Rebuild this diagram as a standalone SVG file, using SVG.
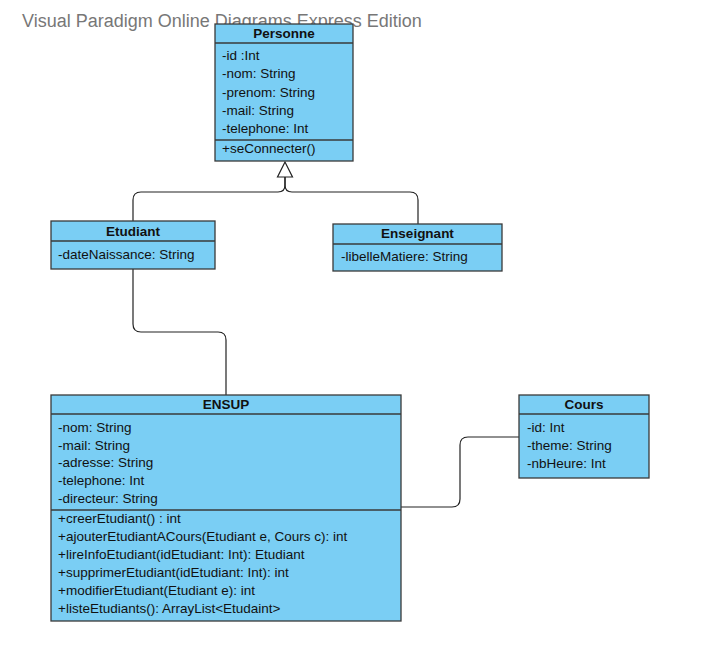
<svg xmlns="http://www.w3.org/2000/svg" width="713" height="672" viewBox="0 0 713 672">
<style>
.box{fill:#7acef4;stroke:#3a3a3a;stroke-width:1.3}
.sep{stroke:#3a3a3a;stroke-width:1.3}
.t{font-family:"Liberation Sans",Arial,sans-serif;font-size:13.5px;fill:#111}
.h{font-family:"Liberation Sans",Arial,sans-serif;font-size:13.5px;font-weight:bold;fill:#111;text-anchor:middle}
.c{fill:none;stroke:#222;stroke-width:1.2}
</style>
<rect width="713" height="672" fill="#fff"/>
<text x="22" y="27" font-family="Liberation Sans,Arial,sans-serif" font-size="18" fill="#777">Visual Paradigm Online Diagrams Express Edition</text>
<g id="connectors">
<path class="c" d="M285 177 V185 Q285 192 278 192 H141 Q133 192 133 200 V221"/>
<path class="c" d="M285 177 V185 Q285 192 292 192 H410 Q418 192 418 200 V224"/>
<polygon points="285,162 277.5,177 292.5,177" fill="#fff" stroke="#222" stroke-width="1.2"/>
<path class="c" d="M133 269 V324 Q133 332 141 332 H218 Q226 332 226 340 V395"/>
<path class="c" d="M401 507 H452 Q460 507 460 499 V445 Q460 437 468 437 H519"/>
</g>
<g id="Personne">
<rect class="box" x="215" y="24" width="138" height="137"/>
<line class="sep" x1="215" y1="43" x2="353" y2="43"/>
<line class="sep" x1="215" y1="140" x2="353" y2="140"/>
<text class="h" x="284" y="38">Personne</text>
<text class="t" x="222" y="60">-id :Int</text>
<text class="t" x="222" y="78">-nom: String</text>
<text class="t" x="222" y="97">-prenom: String</text>
<text class="t" x="222" y="115">-mail: String</text>
<text class="t" x="222" y="133">-telephone: Int</text>
<text class="t" x="222" y="153">+seConnecter()</text>
</g>
<g id="Etudiant">
<rect class="box" x="51" y="221" width="164" height="48"/>
<line class="sep" x1="51" y1="241" x2="215" y2="241"/>
<text class="h" x="133" y="236">Etudiant</text>
<text class="t" x="58" y="259">-dateNaissance: String</text>
</g>
<g id="Enseignant">
<rect class="box" x="333" y="224" width="169" height="47"/>
<line class="sep" x1="333" y1="244" x2="502" y2="244"/>
<text class="h" x="417.5" y="238">Enseignant</text>
<text class="t" x="341" y="261">-libelleMatiere: String</text>
</g>
<g id="ENSUP">
<rect class="box" x="51" y="395" width="350" height="226"/>
<line class="sep" x1="51" y1="414" x2="401" y2="414"/>
<line class="sep" x1="51" y1="510" x2="401" y2="510"/>
<text class="h" x="226" y="409">ENSUP</text>
<text class="t" x="58" y="432">-nom: String</text>
<text class="t" x="58" y="450">-mail: String</text>
<text class="t" x="58" y="467">-adresse: String</text>
<text class="t" x="58" y="485">-telephone: Int</text>
<text class="t" x="58" y="503">-directeur: String</text>
<text class="t" x="58" y="523">+creerEtudiant() : int</text>
<text class="t" x="58" y="541">+ajouterEtudiantACours(Etudiant e, Cours c): int</text>
<text class="t" x="58" y="559">+lireInfoEtudiant(idEtudiant: Int): Etudiant</text>
<text class="t" x="58" y="577">+supprimerEtudiant(idEtudiant: Int): int</text>
<text class="t" x="58" y="595">+modifierEtudiant(Etudiant e): int</text>
<text class="t" x="58" y="613">+listeEtudiants(): ArrayList&lt;Etudaint&gt;</text>
</g>
<g id="Cours">
<rect class="box" x="519" y="395" width="130" height="83"/>
<line class="sep" x1="519" y1="414" x2="649" y2="414"/>
<text class="h" x="584" y="409">Cours</text>
<text class="t" x="527" y="432">-id: Int</text>
<text class="t" x="527" y="450">-theme: String</text>
<text class="t" x="527" y="468">-nbHeure: Int</text>
</g>
</svg>
